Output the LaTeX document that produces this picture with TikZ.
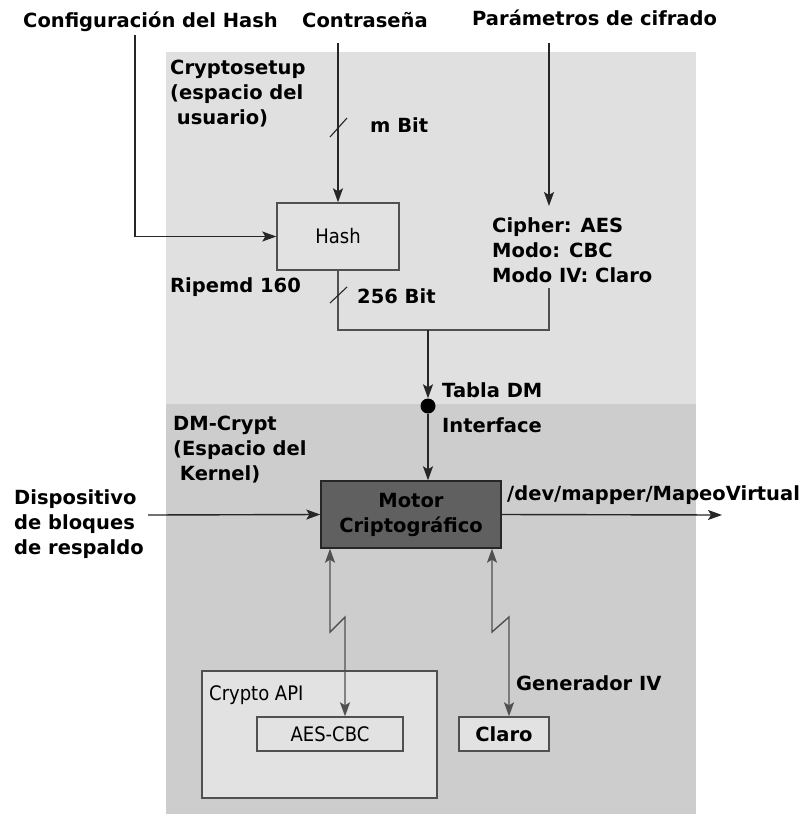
\documentclass[tikz,border=0pt]{standalone}
\usepackage{fontspec}
\setmainfont{DejaVu Sans}
\newfontfamily\condfont{DejaVu Sans Condensed}
\usetikzlibrary{arrows.meta}
\definecolor{upperbg}{HTML}{E0E0E0}
\definecolor{lowerbg}{HTML}{CDCDCD}
\definecolor{boxfill}{HTML}{E2E2E2}
\definecolor{motorfill}{HTML}{606060}
\definecolor{edge}{HTML}{505050}
\definecolor{wire}{HTML}{262626}
\tikzset{
  lbl/.style={font=\fontsize{19.5}{25}\selectfont\bfseries, inner sep=0pt, align=left, anchor=base west},
  boxlbl/.style={font=\fontsize{20}{22}\selectfont\condfont, inner sep=0pt},
  plainbox/.style={draw=edge, line width=1.4pt, fill=boxfill},
  tip/.tip={Stealth[length=14pt,width=10pt,inset=3pt]},
  wireline/.style={draw=wire, line width=1.4pt},
  arr/.style={wireline, -tip},
  dblarr/.style={draw=edge, line width=1.4pt, tip-tip},
  tick/.style={draw=wire, line width=1.1pt}
}
\begin{document}
\begin{tikzpicture}[x=1pt,y=-1pt]
\useasboundingbox (0,0) rectangle (807,814);
% background areas: user space and kernel space
\fill[upperbg] (166,52) rectangle (696,404);
\fill[lowerbg] (166,404) rectangle (696,814);

% outside inputs
\node[lbl] (cfg) at (23,27) {Configuración del Hash};
\node[lbl] (pw) at (302,27) {Contraseña};
\node[lbl] (par) at (472,25) {Parámetros de cifrado};

% area titles (multi-line labels are placed by their last baseline)
\node[lbl] (us) at (170,124) {Cryptosetup\\(espacio del\\\ usuario)};
\node[lbl] (ks) at (173,480) {DM-Crypt\\(Espacio del\\\ Kernel)};

% hash block
\node[plainbox, minimum width=122pt, minimum height=67pt] (hash) at (338,236.5) {};
\node[boxlbl] at (hash.center) {Hash};
\node[lbl] (rip) at (170,292) {Ripemd 160};
\node[lbl] (mbit) at (370,132) {m Bit};
\node[lbl] (bits) at (357,303) {256 Bit};

% cipher parameters
\node[lbl] (cipher) at (492,282) {Cipher: AES\\Modo: CBC\\Modo IV: Claro};

% crypto engine
\node[draw=black!85, line width=1.4pt, fill=motorfill, minimum width=180pt, minimum height=67pt,
      font=\fontsize{19.5}{25}\selectfont\bfseries, align=center] (motor) at (411,514.5)
      {Motor\\Criptográfico};

% DM table interface point
\node[circle, fill=black, inner sep=0pt, minimum size=15pt] (dot) at (428,406) {};
\node[lbl] (tabla) at (442,397) {Tabla DM};
\node[lbl] (iface) at (442,432) {Interface};

% input device and mapped output
\node[lbl] (dev) at (14,554) {Dispositivo\\de bloques\\de respaldo};
\node[lbl] (map) at (507,500) {/dev/mapper/MapeoVirtual};
\coordinate (devin) at (148,515);
\coordinate (mapout) at (722,515);

% crypto API and IV generator
\node[plainbox, minimum width=235pt, minimum height=127pt] (api) at (319.5,734.5) {};
\node[boxlbl, anchor=base west] (apilbl) at (209,700) {Crypto API};
\node[plainbox, minimum width=146pt, minimum height=34pt] (aes) at (330,734) {};
\node[boxlbl] at (aes.center) {AES-CBC};
\node[plainbox, minimum width=90pt, minimum height=34pt, font=\fontsize{19.5}{20}\selectfont\bfseries] (claro) at (504,734) {Claro};
\node[lbl] (gen) at (516,690) {Generador IV};

% connectors
\coordinate (cfgtop) at (135,35);
\coordinate (pwtop) at (338,43);
\coordinate (partop) at (549,43);
\draw[arr] (cfgtop) |- (hash.west);
\draw[arr] (pwtop) -- (hash.north);
\draw[arr] (partop) -- (549,206);
\coordinate (join) at (428,330);
\draw[draw=edge, line width=1.4pt] (hash.south) |- (join) -| (549,288);
\draw[arr] (join) -- (dot.north);
\draw[arr] (dot) -- (motor.north -| dot);
\draw[arr] (devin) -- (motor.west);
\draw[arr] (motor.east) -- (mapout);

% bus width ticks
\draw[tick] (330,137) -- (347,118);
\draw[tick] (330,303) -- (347,287);

% zig-zag links to crypto API and IV generator
\coordinate (za1) at (330,632);
\coordinate (za2) at (345,617);
\coordinate (zb1) at (492,632);
\coordinate (zb2) at (509,617);
\draw[dblarr] (motor.south -| za1) -- (za1) -- (za2) -- (aes.north -| za2);
\draw[dblarr] (motor.south -| zb1) -- (zb1) -- (zb2) -- (claro.north -| zb2);
\end{tikzpicture}
\end{document}
